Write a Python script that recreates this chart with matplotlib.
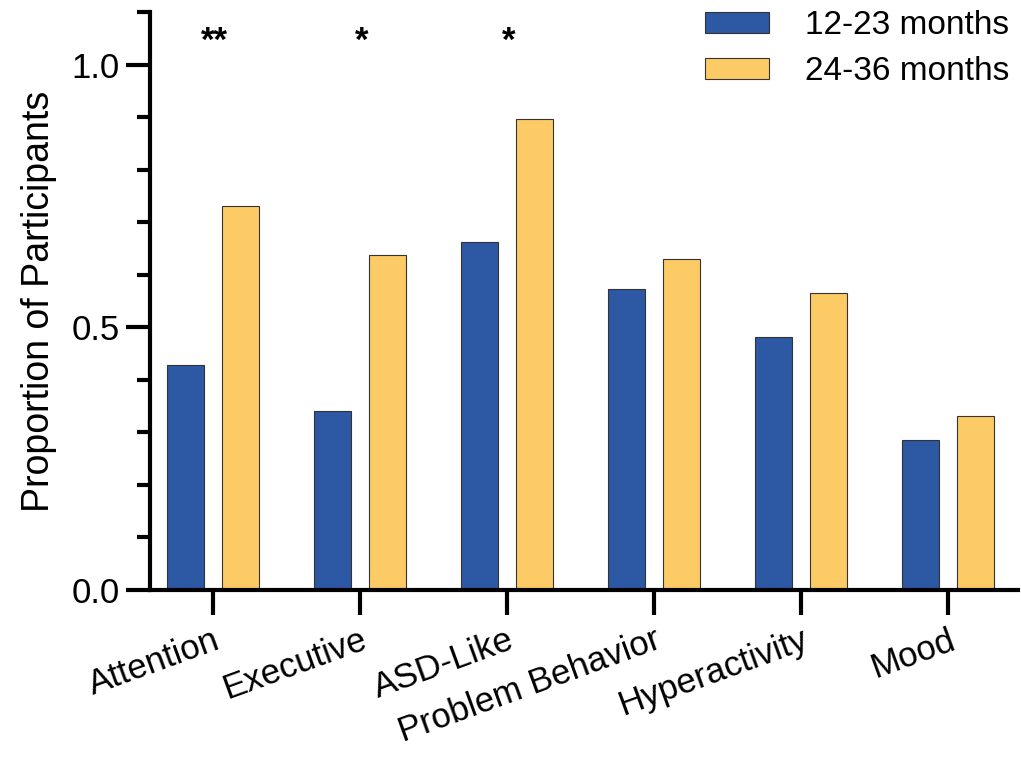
import matplotlib
matplotlib.use("Agg")
import matplotlib.pyplot as plt
import numpy as np
from matplotlib.ticker import MultipleLocator

plt.rcParams['font.family'] = ['Liberation Sans', 'DejaVu Sans']

categories = ["Attention", "Executive", "ASD-Like", "Problem Behavior", "Hyperactivity", "Mood"]
series_names = ["12-23 months", "24-36 months"]
young = [0.428, 0.340, 0.663, 0.572, 0.481, 0.285]
old = [0.730, 0.637, 0.897, 0.629, 0.565, 0.331]
significance = ["**", "*", "*", "", "", ""]
yticks = [0.0, 0.5, 1.0]

colors = ["#2D58A4", "#FDCB66"]

fig = plt.figure(figsize=(10.21, 7.58), dpi=100)
ax = fig.add_axes([150/1021, (758-590)/758, (1018-150)/1021, (590-12)/758])

x = np.arange(len(categories))
w = 0.25
off = 0.187
ax.bar(x - off, young, w, color=colors[0], edgecolor="#333333", linewidth=0.8, label=series_names[0])
ax.bar(x + off, old, w, color=colors[1], edgecolor="#333333", linewidth=0.8, label=series_names[1])

for xi, s in zip(x, significance):
    if s:
        ax.text(xi + 0.01, 1.045, s, ha="center", va="center", fontsize=25, fontweight="bold")

ax.set_xlim(-0.43, 5.476)
ax.set_ylim(0, 1.1)
ax.set_yticks(yticks)
ax.set_yticklabels([f"{t:.1f}" for t in yticks])
ax.yaxis.set_minor_locator(MultipleLocator(0.1))
ax.set_xticks(x)
ax.set_xticklabels(categories, rotation=20, ha="right", rotation_mode="anchor", fontsize=25)

for sp in ["top", "right"]:
    ax.spines[sp].set_visible(False)
for sp in ["left", "bottom"]:
    ax.spines[sp].set_linewidth(3)

ax.tick_params(axis="y", which="major", length=17, width=3, labelsize=25, pad=5)
ax.tick_params(axis="y", which="minor", length=9.5, width=3)
ax.tick_params(axis="x", which="major", length=18, width=3, pad=6)

ax.set_ylabel("Proportion of Participants", fontsize=27, labelpad=10)

leg = ax.legend(loc="upper right", bbox_to_anchor=(1.025, 1.055), frameon=False, fontsize=24,
                handlelength=1.9, handleheight=0.6, handletextpad=1.1, labelspacing=0.45)

fig.savefig("out.png", dpi=100)
